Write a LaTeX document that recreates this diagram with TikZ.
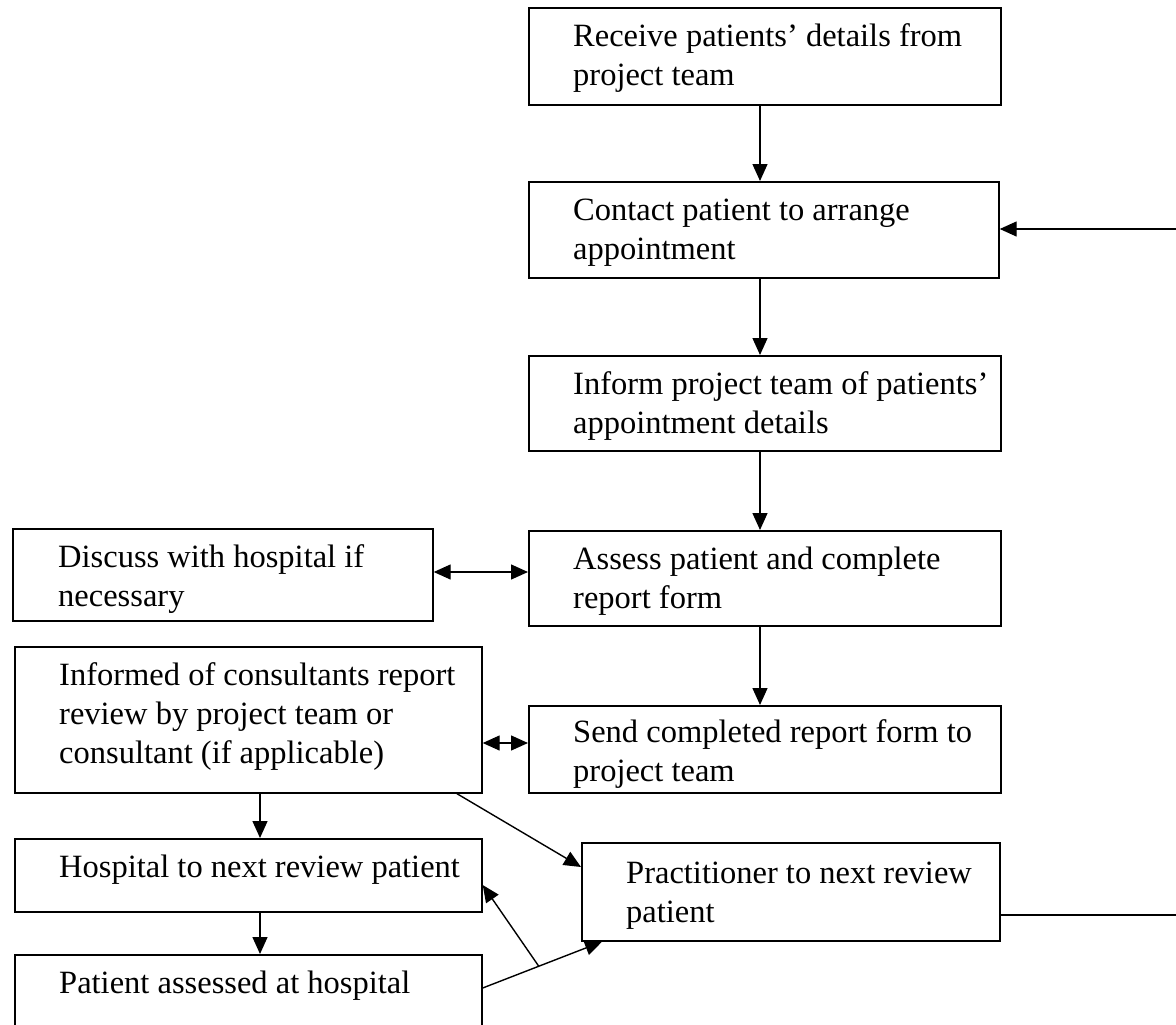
\documentclass[tikz,border=0pt]{standalone}
\usepackage{fontspec}
\setmainfont{Liberation Serif}
\usetikzlibrary{arrows.meta,calc}
\begin{document}
\begin{tikzpicture}[x=1pt,y=-1pt,
 box/.style={draw, line width=1.7pt, rectangle, inner sep=0pt, anchor=north west},
 txt/.style={anchor=north west, inner sep=0pt, align=left, font=\fontsize{32.5}{39}\selectfont},
 arr/.style={line width=1.4pt, -{Triangle[length=17pt,width=15pt]}},
 darr/.style={line width=1.4pt, {Triangle[length=17pt,width=15pt]}-{Triangle[length=17pt,width=15pt]}},
 ln/.style={line width=1.4pt}]
\useasboundingbox (0,0) rectangle (1176,1025);
\clip (0,0) rectangle (1176,1025);
% boxes
\node[box, minimum width=472, minimum height=97] (b1) at (528,7) {};
\node[box, minimum width=470, minimum height=96] (b2) at (528,181) {};
\node[box, minimum width=472, minimum height=95] (b3) at (528,355) {};
\node[box, minimum width=472, minimum height=95] (b4) at (528,530) {};
\node[box, minimum width=472, minimum height=87] (b5) at (528,705) {};
\node[box, minimum width=420, minimum height=92] (dis) at (12,528) {};
\node[box, minimum width=467, minimum height=146] (inf) at (14,646) {};
\node[box, minimum width=467, minimum height=73] (hos) at (14,838) {};
\node[box, minimum width=467, minimum height=90] (ass) at (14,954) {};
\node[box, minimum width=418, minimum height=98] (pra) at (581,842) {};
% texts
\node[txt] (t1) at ($(b1.north west)+(45,12)$) {\strut Receive patients’ details from\\project team};
\node[txt] (t2) at ($(b2.north west)+(45,12)$) {\strut Contact patient to arrange\\appointment};
\node[txt] (t3) at ($(b3.north west)+(45,12)$) {\strut Inform project team of patients’\\appointment details};
\node[txt] (t4) at ($(b4.north west)+(45,12)$) {\strut Assess patient and complete\\report form};
\node[txt] (t5) at ($(b5.north west)+(45,10)$) {\strut Send completed report form to\\project team};
\node[txt] (tdis) at ($(dis.north west)+(46,12)$) {\strut Discuss with hospital if\\necessary};
\node[txt] (tinf) at ($(inf.north west)+(45,12)$) {\strut Informed of consultants report\\review by project team or\\consultant (if applicable)};
\node[txt] (thos) at ($(hos.north west)+(45,12)$) {\strut Hospital to next review patient};
\node[txt] (tass) at ($(ass.north west)+(45,12)$) {\strut Patient assessed at hospital};
\node[txt] (tpra) at ($(pra.north west)+(45,14)$) {\strut Practitioner to next review\\patient};
% connectors
\draw[arr] (b1.south -| 760,0) -- (b2.north -| 760,0);
\draw[arr] (b2.south -| 760,0) -- (b3.north -| 760,0);
\draw[arr] (b3.south -| 760,0) -- (b4.north -| 760,0);
\draw[arr] (b4.south -| 760,0) -- (b5.north -| 760,0);
\draw[darr] (dis.east |- 0,572) -- (b4.west |- 0,572);
\draw[darr] (inf.east |- 0,743) -- (b5.west |- 0,743);
\draw[arr] (inf.south -| 260,0) -- (hos.north -| 260,0);
\draw[arr] (hos.south -| 260,0) -- (ass.north -| 260,0);
\draw[arr] (inf.south -| 457,0) -- (pra.west |- 0,867);
\draw[arr] (ass.east |- 0,988) -- coordinate[pos=0.47] (split) (pra.south -| 602,0);
\draw[arr] (split) -- (hos.east |- 0,885);
\coordinate (rb) at (1176,915);
\coordinate (rt) at (1176,229);
\draw[ln] (pra.east |- rb) -- (rb);
\draw[arr] (rt) -- (b2.east |- rt);
\end{tikzpicture}
\end{document}
